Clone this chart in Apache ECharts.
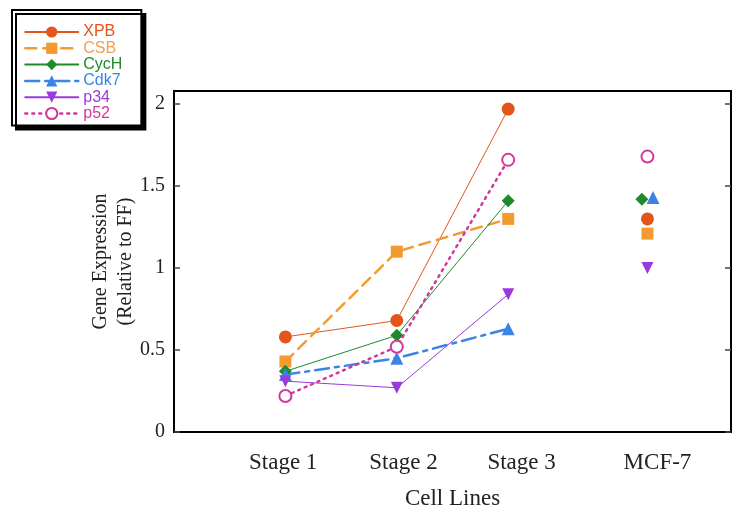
<!DOCTYPE html>
<html>
<head>
<meta charset="utf-8">
<script src="https://cdn.jsdelivr.net/npm/echarts@6/dist/echarts.min.js"></script>
<style>
html,body{margin:0;padding:0;background:#fff;}
#chart{width:734px;height:510px;}
</style>
</head>
<body>
<div id="chart"></div>
<script>
// ---- data ----
const categories = ['Stage 1', 'Stage 2', 'Stage 3', 'MCF-7'];
const categoryLabelPositions = [0.98, 2.06, 3.12, 4.34];
const stagePositions = [1, 2, 3];
const seriesNames = ['XPB', 'CSB', 'CycH', 'Cdk7', 'p34', 'p52'];
const mcfPositions = [4.25, 4.25, 4.2, 4.3, 4.25, 4.25];
const xpbValues  = [0.58, 0.68, 1.97, 1.30];
const csbValues  = [0.43, 1.10, 1.30, 1.21];
const cychValues = [0.37, 0.59, 1.41, 1.42];
const cdk7Values = [0.35, 0.45, 0.63, 1.43];
const p34Values  = [0.31, 0.27, 0.84, 1.00];
const p52Values  = [0.22, 0.52, 1.66, 1.68];
const yTickValues = [0, 0.5, 1, 1.5, 2];
const yTickLabels = ['0', '0.5', '1', '1.5', '2'];

const allValues = [xpbValues, csbValues, cychValues, cdk7Values, p34Values, p52Values];
const colors = ['#e2561c', '#f59a2e', '#1e8a2c', '#3b84e6', '#9a3ade', '#d2389a'];
const textColors = ['#e2561c', '#f0a050', '#1e8a2c', '#3b84e6', '#9a3ade', '#d2389a'];
const symbols = ['circle', 'rect', 'diamond', 'triangle', 'triangle', 'emptyCircle'];
const symbolSizes = [13, 12, 13, 13, 12, 12];
const symbolRotates = [0, 0, 0, 0, 180, 0];
const lineTypes = ['solid', [11, 7], 'solid', [14, 6, 4, 6], 'solid', [2, 5]];
const lineWidths = [1, 2.5, 1, 2.5, 1, 2.5];
const legendLineWidths = [2, 2.5, 2, 2.5, 2, 2.5];

function buildData(vals, mcfX) {
  const d = stagePositions.map((x, i) => [x, vals[i]]);
  d.push([3.6, '-']);
  d.push([mcfX, vals[3]]);
  return d;
}

const series = seriesNames.map((name, i) => ({
  name: name,
  type: 'line',
  data: buildData(allValues[i], mcfPositions[i]),
  connectNulls: false,
  symbol: symbols[i],
  symbolSize: symbolSizes[i],
  symbolRotate: symbolRotates[i],
  showAllSymbol: true,
  lineStyle: { color: colors[i], width: lineWidths[i], type: lineTypes[i], cap: 'round' },
  itemStyle: { color: colors[i], borderColor: colors[i], borderWidth: symbols[i] === 'emptyCircle' ? 2 : 0 },
  emphasis: { disabled: true },
  z: 2
}));

const chart = echarts.init(document.getElementById('chart'), null, { renderer: 'canvas' });
chart.setOption({
  animation: false,
  backgroundColor: '#fff',
  grid: {
    left: 174, right: 3, top: 91, bottom: 78,
    outerBoundsMode: 'none',
    containLabel: false,
    show: true, borderColor: '#000', borderWidth: 2
  },
  legend: {
    orient: 'vertical',
    left: 12, top: 10,
    backgroundColor: '#fff',
    borderColor: '#000',
    borderWidth: 2,
    shadowColor: '#000',
    shadowBlur: 0,
    shadowOffsetX: 4,
    shadowOffsetY: 4,
    padding: [14, 19, 4, 12],
    itemWidth: 53,
    itemHeight: 14,
    itemGap: 0.3,
    selectedMode: false,
    data: seriesNames.map((n, i) => ({
      name: n,
      textStyle: { color: textColors[i] },
      lineStyle: { width: legendLineWidths[i] }
    })),
    textStyle: { fontFamily: 'Liberation Sans', fontSize: 16, lineHeight: 16 }
  },
  xAxis: {
    type: 'value',
    min: 0, max: 5,
    name: 'Cell Lines',
    nameLocation: 'middle',
    nameGap: 55,
    nameMoveOverlap: false,
    nameTextStyle: { fontFamily: 'Liberation Serif', fontSize: 23, color: '#222' },
    axisLine: { show: false },
    axisTick: { show: false },
    splitLine: { show: false },
    axisLabel: {
      customValues: categoryLabelPositions,
      margin: 19,
      fontFamily: 'Liberation Serif', fontSize: 23, color: '#222',
      formatter: function (v) {
        let best = 0;
        categoryLabelPositions.forEach((p, i) => { if (Math.abs(p - v) < Math.abs(categoryLabelPositions[best] - v)) best = i; });
        return categories[best];
      }
    }
  },
  yAxis: [{
    type: 'value',
    min: 0, max: 2.08,
    position: 'left',
    name: 'Gene Expression\n(Relative to FF)',
    nameLocation: 'middle',
    nameGap: 36,
    nameMoveOverlap: false,
    nameTextStyle: { fontFamily: 'Liberation Serif', fontSize: 20, color: '#222', lineHeight: 25 },
    axisLine: { show: false },
    splitLine: { show: false },
    axisTick: { show: true, inside: true, length: 6, customValues: yTickValues, lineStyle: { color: '#444', width: 1.5 } },
    axisLabel: {
      customValues: yTickValues,
      margin: 9,
      fontFamily: 'Liberation Serif', fontSize: 20, color: '#222',
      formatter: function (v) {
        const i = yTickValues.findIndex(t => Math.abs(t - v) < 1e-6);
        return i >= 0 ? yTickLabels[i] : '';
      }
    }
  }, {
    type: 'value',
    min: 0, max: 2.08,
    position: 'right',
    axisLine: { show: false },
    splitLine: { show: false },
    axisLabel: { show: false },
    axisTick: { show: true, inside: true, length: 6, customValues: yTickValues, lineStyle: { color: '#444', width: 1.5 } }
  }],
  series: series
});
</script>
</body>
</html>
